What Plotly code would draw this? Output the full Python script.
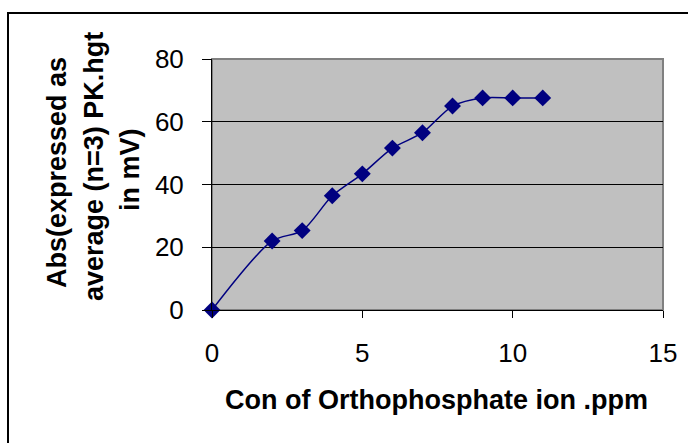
import plotly.graph_objects as go

conc_ppm = [0, 2, 3, 4, 5, 6, 7, 8, 9, 10, 11]
abs_mv = [0, 22.0, 25.3, 36.4, 43.4, 51.6, 56.5, 65.0, 67.6, 67.6, 67.6]
x_ticks = [0, 5, 10, 15]
y_ticks = [0, 20, 40, 60, 80]
x_title = "Con of Orthophosphate ion .ppm"
y_title_lines = ["Abs(expressed as", "average (n=3) PK.hgt", "in mV)"]

L, R, T, B = 212, 25, 59, 133
W, H = 688, 443
pw, ph = W - L - R, H - T - B

def px(x):
    return (x - L) / pw

def py(y):
    return (H - B - y) / ph

fig = go.Figure()
fig.add_trace(go.Scatter(
    x=conc_ppm, y=abs_mv, mode="lines+markers",
    line=dict(color="#000080", width=1.5, shape="spline", smoothing=0.8),
    marker=dict(symbol="diamond", size=13, color="#000080"),
    cliponaxis=False, showlegend=False,
))

font = "Arial, Liberation Sans, sans-serif"
tfont = dict(size=26, family=font, color="black")
bfont = dict(size=27, family=font, color="black", weight="bold")
fig.update_layout(
    width=W, height=H,
    margin=dict(l=L, r=R, t=T, b=B, pad=0),
    paper_bgcolor="white", plot_bgcolor="#C0C0C0",
    font=dict(family=font, size=26, color="black"),
    xaxis=dict(range=[0, 15], tickvals=x_ticks, ticks="outside", ticklen=7,
               tickcolor="black", tickwidth=1, showgrid=False, zeroline=False,
               showline=True, linecolor="black", linewidth=1,
               ticklabelstandoff=13, tickfont=tfont),
    yaxis=dict(range=[0, 80], tickvals=y_ticks, ticks="outside", ticklen=9,
               tickcolor="black", tickwidth=1, showgrid=True, gridcolor="black",
               gridwidth=1, zeroline=False, showline=True, linecolor="black",
               linewidth=1, ticklabelstandoff=13, tickfont=tfont),
    shapes=[
        dict(type="rect", xref="paper", yref="paper", x0=0, x1=1, y0=0, y1=1,
             line=dict(color="#808080", width=2), layer="below"),
        dict(type="rect", xref="paper", yref="paper", x0=px(8), x1=2,
             y0=-2, y1=py(13), line=dict(color="black", width=2)),
    ],
)
fig.add_annotation(text=x_title, xref="paper", yref="paper", x=px(436.5), y=py(400),
                   xanchor="center", yanchor="middle", showarrow=False, font=bfont)
for line, xc, yc in zip(y_title_lines, [57, 94, 130], [173, 167, 170]):
    fig.add_annotation(text=line, xref="paper", yref="paper", x=px(xc), y=py(yc),
                       xanchor="center", yanchor="middle", showarrow=False,
                       textangle=-90, font=bfont)
fig.write_html("out.html")
